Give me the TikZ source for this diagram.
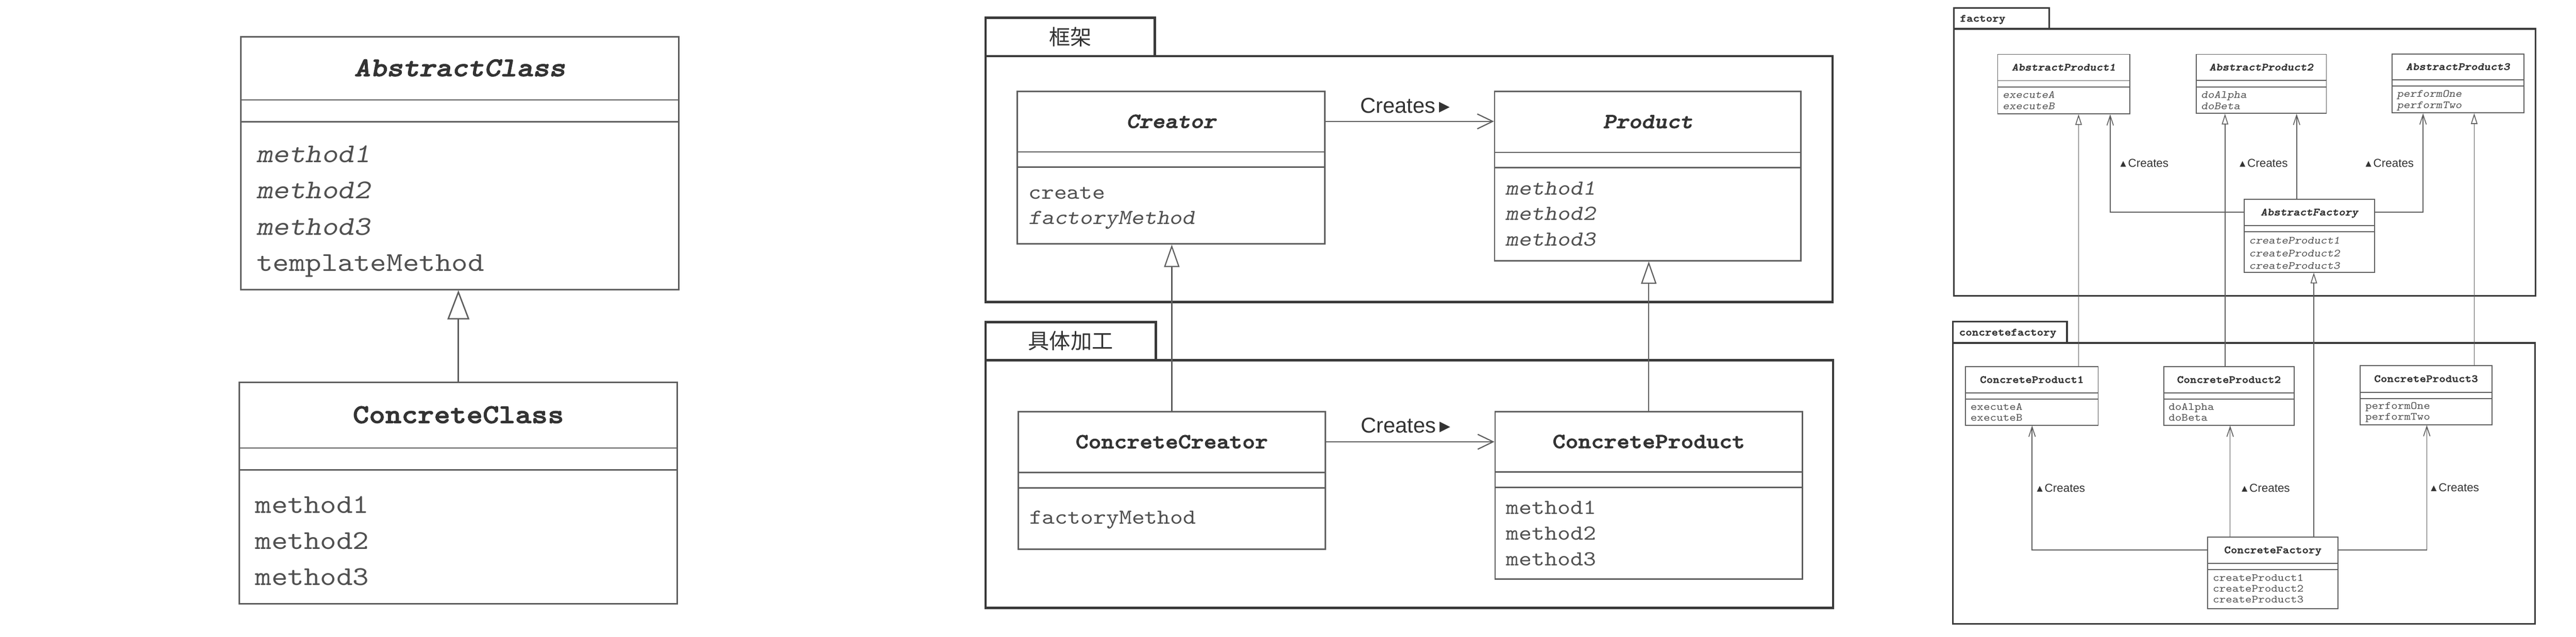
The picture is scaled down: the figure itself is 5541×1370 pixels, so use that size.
\documentclass[tikz,border=0pt]{standalone}
\usepackage{fontspec}
\usetikzlibrary{arrows.meta, fit, calc}
\newfontfamily\umlmono{lmmono10-regular.otf}[BoldFont=lmmonolt10-bold.otf, ItalicFont=lmmonoslant10-regular.otf, BoldItalicFont=lmmonolt10-boldoblique.otf, BoldFeatures={FakeBold=2}, BoldItalicFeatures={FakeBold=2}, FakeStretch=1.14]
\newfontfamily\umlsans{Liberation Sans}
\newfontfamily\umlsym{DejaVu Sans}
\newfontfamily\umlcjk{Noto Sans CJK SC}
\definecolor{linegray}{HTML}{5E5E5E}
\definecolor{pkggray}{HTML}{3A3A3A}
\definecolor{titlegray}{HTML}{333333}
\definecolor{opgray}{HTML}{505050}
% #1 name, #2 corners, #3 header line, #4 attribute line, #5 title, #6 first baseline, #7 operations
\newcommand\umlclass[7]{%
  \node[classbox, fit={#2}] (#1) {};
  \draw[classline] (#1.west |- 0,#3) -- (#1.east |- 0,#3)
    (#1.west |- 0,#4) -- (#1.east |- 0,#4);
  \node[classname] (#1-title) at ($(#1.north)!0.5!(#1.north |- 0,#3)$) {#5};
  \foreach \op [count=\i from 0] in {#7}
    \node[classop] (#1-op\i) at ($(#1.west |- 0,#6)+(\opindent,\i*\opskip)$) {\op};
}
\begin{document}
\begin{tikzpicture}[x=0.01cm, y=-0.01cm,
  classbox/.style={draw=linegray, line width=0.85pt, inner sep=0pt, fill=white},
  classline/.style={draw=linegray, line width=0.85pt},
  classname/.style={inner sep=0pt, text depth=0pt, text=titlegray},
  classop/.style={anchor=base west, inner sep=0pt, text=opgray},
  pkgtab/.style={draw=pkggray, line width=1.4pt, inner sep=0pt},
  pkgbody/.style={draw=pkggray, line width=1.4pt, inner sep=0pt}]
\useasboundingbox (0,0) rectangle (5541,1370);
\fill[white] (0,0) rectangle (5541,1370);

% Template Method
\begin{scope}[
  classname/.append style={font=\umlmono\fontsize{16.6pt}{20pt}\selectfont\bfseries, text height=10.1pt},
  classop/.append style={font=\umlmono\fontsize{16.6pt}{20pt}\selectfont},
  inherit/.style={draw=linegray, line width=0.85pt, -{Triangle[open, length=17.9pt, width=13.4pt]}}]
  \def\opindent{35}\def\opskip{77.7}
  \umlclass{abstract}{(518,79) (1460,623)}{215}{262}{\itshape AbstractClass}{350}{\textit{method1},\textit{method2},\textit{method3},templateMethod}
  \umlclass{concrete}{(515,823) (1457,1299)}{964}{1011}{ConcreteClass}{1104}{method1,method2,method3}
  \draw[inherit] (concrete.north) -- (concrete.north |- abstract.south);
\end{scope}

% Factory Method
\begin{scope}[
  classname/.append style={font=\umlmono\fontsize{13.1pt}{16pt}\selectfont\bfseries, text height=8pt},
  classop/.append style={font=\umlmono\fontsize{13.1pt}{16pt}\selectfont},
  inherit/.style={draw=linegray, line width=0.7pt, -{Triangle[open, length=13.7pt, width=9.4pt]}},
  creates/.style={draw=linegray, line width=0.7pt, -{Straight Barb[length=9.4pt, width=9.1pt]}},
  crlabel/.style={font=\umlsans\fontsize{13.17pt}{16pt}\selectfont, text=titlegray, inner sep=0pt},
  pkgname/.style={font=\umlcjk\fontsize{13pt}{16pt}\selectfont, text=titlegray, inner sep=0pt}]
  \def\opindent{25}\def\opskip{55}
  \node[pkgtab, fit={(2120,38) (2484,121)}] (fw-tab) {};
  \node[pkgname] (fw-label) at (fw-tab) {框架};
  \node[pkgbody, fit={(2120,121) (3942,650)}] (fw) {};
  \node[pkgtab, fit={(2120,693) (2486,775)}] (impl-tab) {};
  \node[pkgname] (impl-label) at (impl-tab) {具体加工};
  \node[pkgbody, fit={(2120,775) (3943,1308)}] (impl) {};

  \umlclass{creator}{(2188,197) (2850,525)}{327}{360}{\itshape Creator}{428}{create,\textit{factoryMethod}}
  \umlclass{product}{(3215,197) (3874,561)}{328}{361}{\itshape Product}{419}{\textit{method1},\textit{method2},\textit{method3}}
  \umlclass{ccreator}{(2190,886) (2851,1182)}{1017}{1050}{ConcreteCreator}{1128}{factoryMethod}
  \umlclass{cproduct}{(3216,886) (3877,1246)}{1016}{1049}{ConcreteProduct}{1107}{method1,method2,method3}

  \draw[creates] (creator.east |- creator-title) -- (product.west |- creator-title)
    node[crlabel, midway, anchor=base, yshift=0.18cm, xshift=-0.1cm] (cr-lbl1) {Creates\,{\umlsym ▸}};
  \draw[creates] (ccreator.east |- ccreator-title) -- (cproduct.west |- ccreator-title)
    node[crlabel, midway, anchor=base, yshift=0.19cm, xshift=-0.1cm] (cr-lbl2) {Creates\,{\umlsym ▸}};
  \draw[inherit] (ccreator.north) -- (ccreator.north |- creator.south);
  \draw[inherit] (cproduct.north) -- (cproduct.north |- product.south);
\end{scope}

% Abstract Factory
\begin{scope}[
  classbox/.append style={line width=0.57pt},
  classline/.append style={line width=0.57pt},
  classname/.append style={font=\umlmono\fontsize{6.63pt}{8pt}\selectfont\bfseries, text height=4.05pt},
  classop/.append style={font=\umlmono\fontsize{6.63pt}{8pt}\selectfont},
  pkgtab/.append style={line width=1pt},
  pkgbody/.append style={line width=1pt},
  inherit/.style={draw=linegray, line width=0.5pt, -{Triangle[open, length=6.5pt, width=4pt]}},
  creates/.style={draw=linegray, line width=0.5pt, -{Straight Barb[length=6pt, width=4pt]}},
  crlabel/.style={font=\umlsans\fontsize{7.07pt}{9pt}\selectfont, text=titlegray, inner sep=0pt, text height=5.06pt, text depth=0pt},
  pkgname/.style={font=\umlmono\fontsize{6.63pt}{8pt}\selectfont\bfseries, text=titlegray, inner sep=0pt, text height=4.05pt, text depth=0pt}]
  \node[pkgtab, fit={(4203,17) (4408,62)}] (fac-tab) {};
  \node[pkgname, anchor=west] (fac-label) at ([xshift=0.14cm]fac-tab.west) {factory};
  \node[pkgbody, fit={(4203,62) (5454,637)}] (fac) {};
  \node[pkgtab, fit={(4201,692) (4446,738)}] (cfac-tab) {};
  \node[pkgname, anchor=west] (cfac-label) at ([xshift=0.14cm]cfac-tab.west) {concretefactory};
  \node[pkgbody, fit={(4201,738) (5453,1343)}] (cfac) {};

  \def\opindent{11}\def\opskip{24}
  \umlclass{ap1}{(4297,117) (4581,245)}{173.5}{187.5}{\itshape AbstractProduct1}{211}{\textit{executeA},\textit{executeB}}
  \umlclass{ap2}{(4724,117) (5004,244)}{173}{187}{\itshape AbstractProduct2}{211}{\textit{doAlpha},\textit{doBeta}}
  \umlclass{ap3}{(5145,116) (5429,243)}{172}{185.5}{\itshape AbstractProduct3}{209}{\textit{performOne},\textit{performTwo}}
  \def\opskip{27}
  \umlclass{af}{(4827,429) (5108,586)}{485}{499}{\itshape AbstractFactory}{525}{\textit{createProduct1},\textit{createProduct2},\textit{createProduct3}}
  \def\opskip{23}
  \umlclass{cp1}{(4228,789) (4513,915)}{846}{859}{ConcreteProduct1}{883}{executeA,executeB}
  \umlclass{cp2}{(4654,789) (4935,915)}{846}{859}{ConcreteProduct2}{883}{doAlpha,doBeta}
  \umlclass{cp3}{(5077,787) (5360,914)}{844}{858}{ConcreteProduct3}{881}{performOne,performTwo}
  \umlclass{cf}{(4749,1156) (5029,1310)}{1212}{1226}{ConcreteFactory}{1251}{createProduct1,createProduct2,createProduct3}

  \coordinate (x-inh1) at (4471,0);
  \coordinate (x-inh2) at (4786,0);
  \coordinate (x-inh3) at (5322,0);
  \coordinate (x-inhf) at (4977,0);
  \coordinate (x-cr1) at (4539,0);
  \coordinate (x-cr2) at (4940,0);
  \coordinate (x-cr3) at (5212,0);
  \coordinate (x-cr4) at (4371,0);
  \coordinate (x-cr5) at (4797,0);
  \coordinate (x-cr6) at (5220,0);

  \draw[inherit] (cp1.north -| x-inh1) -- (ap1.south -| x-inh1);
  \draw[inherit] (cp2.north -| x-inh2) -- (ap2.south -| x-inh2);
  \draw[inherit] (cp3.north -| x-inh3) -- (ap3.south -| x-inh3);
  \draw[inherit] (cf.north -| x-inhf) -- (af.south -| x-inhf);

  \draw[creates] (af.west |- af-title) -| (ap1.south -| x-cr1)
    node[crlabel, pos=0.75, anchor=west, xshift=0.21cm] (ap1-lbl) {{\umlsym ▴}\,Creates};
  \draw[creates] (af.north -| x-cr2) -- (ap2.south -| x-cr2)
    node[crlabel, pos=0.42, anchor=east, xshift=-0.18cm] (ap2-lbl) {{\umlsym ▴}\,Creates};
  \draw[creates] (af.east |- af-title) -| (ap3.south -| x-cr3)
    node[crlabel, pos=0.75, anchor=east, xshift=-0.19cm] (ap3-lbl) {{\umlsym ▴}\,Creates};
  \draw[creates] (cf.west |- cf-title) -| (cp1.south -| x-cr4)
    node[crlabel, pos=0.75, anchor=west, xshift=0.095cm] (cp1-lbl) {{\umlsym ▴}\,Creates};
  \draw[creates] (cf.north -| x-cr5) -- (cp2.south -| x-cr5)
    node[crlabel, pos=0.44, anchor=west, xshift=0.24cm] (cp2-lbl) {{\umlsym ▴}\,Creates};
  \draw[creates] (cf.east |- cf-title) -| (cp3.south -| x-cr6)
    node[crlabel, pos=0.75, anchor=west, xshift=0.08cm] (cp3-lbl) {{\umlsym ▴}\,Creates};
\end{scope}
\end{tikzpicture}
\end{document}
